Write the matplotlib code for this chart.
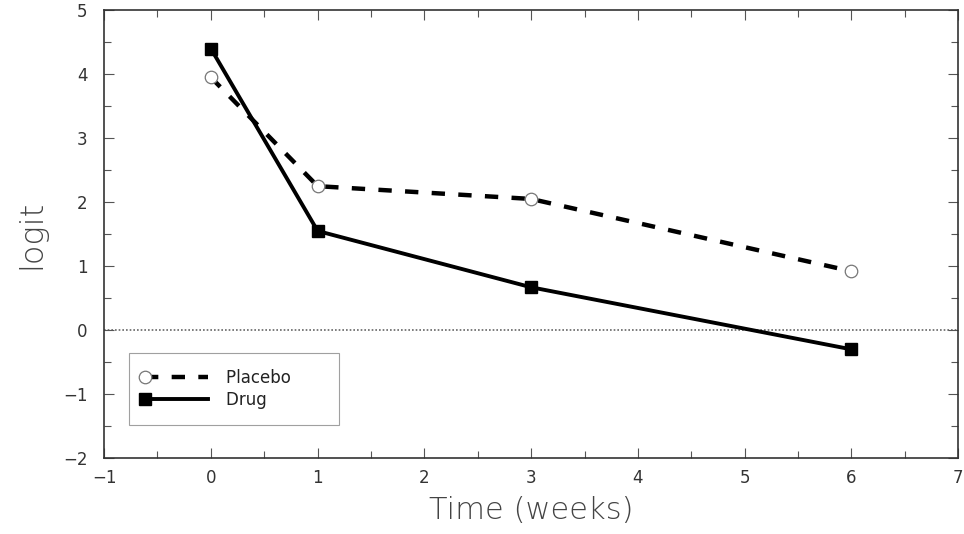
import numpy as np
import matplotlib
matplotlib.use("Agg")
import matplotlib.pyplot as plt
from matplotlib.ticker import MultipleLocator
from matplotlib.legend_handler import HandlerLine2D

# ---- data ----
weeks = [0, 1, 3, 6]
placebo = [3.95, 2.25, 2.05, 0.92]
drug = [4.40, 1.55, 0.67, -0.30]

x_ticks = [-1, 0, 1, 2, 3, 4, 5, 6, 7]
y_ticks = [-2, -1, 0, 1, 2, 3, 4, 5]


class MarkerFirst(HandlerLine2D):
    # legend sample with the marker at the left end of the line
    def create_artists(self, *args, **kwargs):
        arts = super().create_artists(*args, **kwargs)
        for a in arts:
            a.set_markevery([0])
        return arts


def minus(v):
    return str(v).replace("-", "\u2212")


plt.rcParams["font.family"] = ["DejaVu Sans"]

fig = plt.figure(figsize=(9.64, 5.34), dpi=100)
ax = fig.add_axes([0.108, 0.142, 0.886, 0.839])

# zero reference line (dotted, grey)
ax.axhline(0, color="#666666", lw=1.2, ls=(0, (1, 1.2)), zorder=1)

ax.plot(weeks, placebo, color="black", lw=3.2, ls=(0, (3, 3)),
        marker="o", ms=9, mfc="white", mec="#777777", mew=0.9,
        label="Placebo", zorder=3)
ax.plot(weeks, drug, color="black", lw=2.8, ls="-",
        marker="s", ms=9, mfc="black", mec="black",
        label="Drug", zorder=4)

ax.set_xlim(-1, 7)
ax.set_ylim(-2, 5)
ax.set_xticks(x_ticks)
ax.set_yticks(y_ticks)
ax.set_xticklabels([minus(v) for v in x_ticks])
ax.set_yticklabels([minus(v) for v in y_ticks])
ax.xaxis.set_minor_locator(MultipleLocator(0.5))
ax.yaxis.set_minor_locator(MultipleLocator(0.5))
ax.tick_params(which="both", direction="in", top=True, right=True,
               color="#555555", width=0.8, labelsize=12, labelcolor="#333333")
ax.tick_params(which="major", length=7)
ax.tick_params(which="minor", length=5)
ax.tick_params(axis="x", pad=8)
ax.tick_params(axis="y", pad=12)
for sp in ax.spines.values():
    sp.set_color("#333333")
    sp.set_linewidth(1.2)

ax.set_xlabel("Time (weeks)", fontsize=22, color="#444444", fontweight="light", labelpad=6)
ax.set_ylabel("logit", fontsize=23, color="#444444", fontweight="light", labelpad=12)

leg = ax.legend(loc="lower left", bbox_to_anchor=(0.029, 0.075), fontsize=12,
                frameon=True, fancybox=False, edgecolor="#888888",
                handlelength=3.8, borderpad=0.95, labelspacing=0.25,
                handletextpad=1.1, borderaxespad=0, numpoints=1,
                handler_map={plt.Line2D: MarkerFirst()})
leg.get_frame().set_linewidth(0.8)
for t in leg.get_texts():
    t.set_color("#222222")
    t.set_text(t.get_text() + "      ")

fig.savefig("out.png", dpi=100)
